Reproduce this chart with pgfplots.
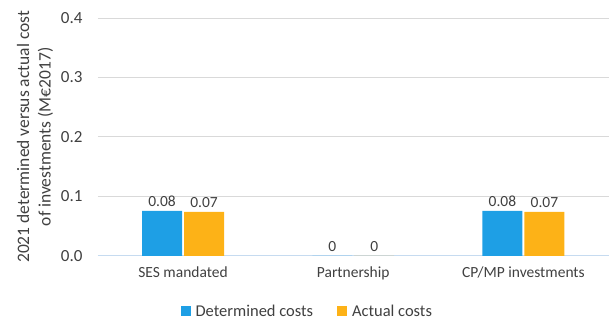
\documentclass[border=0pt]{standalone}
\usepackage{pgfplots}
\pgfplotsset{compat=1.18}
\usepackage{fontspec}
\setmainfont{Carlito}
\definecolor{detblue}{HTML}{1E9FE5}
\definecolor{actorange}{HTML}{FDB217}
\definecolor{gridgray}{HTML}{D9D9D9}
\definecolor{baseblue}{HTML}{C6DBF0}
\newcommand{\lblfont}{\fontsize{15.5}{19}\selectfont}
\begin{document}
\begin{tikzpicture}
\begin{axis}[
  scale only axis, width=511pt, height=238pt,
  ybar, bar width=40pt,
  ymin=0, ymax=0.4, ytick={0,0.1,...,0.4},
  tick label style={font=\lblfont, text=black!75},
  yticklabel style={/pgf/number format/fixed,/pgf/number format/fixed zerofill,/pgf/number format/precision=1, xshift=-12pt, font=\fontsize{17}{19}\selectfont},
  xmin=-0.5, xmax=2.5, xtick={0,1,2},
  xticklabels={SES mandated, Partnership, CP/MP investments},
  xticklabel style={yshift=-3pt},
  ymajorgrids, grid style={gridgray, line width=0.8pt},
  axis x line*=bottom, axis y line*=left,
  y axis line style={draw=none},
  x axis line style={color=baseblue, line width=0.9pt},
  xtick style={draw=none}, ytick style={draw=none},
  /pgf/number format/assume math mode=true,
  ylabel={2021 determined versus actual cost\\of investments (M€2017)},
  ylabel style={align=center, font=\fontsize{17.5}{21.5}\selectfont, text=black!75, at={(axis description cs:-0.081,0.5)}, anchor=south},
  nodes near coords={\pgfmathprintnumber[fixed,precision=2]{\pgfplotspointmeta}},
  nodes near coords style={font=\lblfont, text=black!75, yshift=1pt},
  legend style={draw=none, at={(0.41,-0.19)}, anchor=north, legend columns=2,
    font=\fontsize{16.5}{19}\selectfont, text=black!75,
    /tikz/every odd column/.append style={column sep=3pt},
    /tikz/every even column/.append style={column sep=22pt}},
  legend image code/.code={\fill[#1] (0pt,-4pt) rectangle (10pt,6pt);},
  clip=false,
]
\addplot[fill=detblue, draw=none] coordinates {(0,0.0756) (1,0) (2,0.0756)};
\addplot[fill=actorange, draw=none] coordinates {(0,0.0740) (1,0) (2,0.0740)};
\legend{Determined costs, Actual costs}
\end{axis}
\path (current axis.north west) ++(-98pt,18pt) coordinate (tl);
\path (current axis.south east) ++(0pt,-69pt) coordinate (br);
\useasboundingbox (tl) rectangle (br);
\end{tikzpicture}
\end{document}
